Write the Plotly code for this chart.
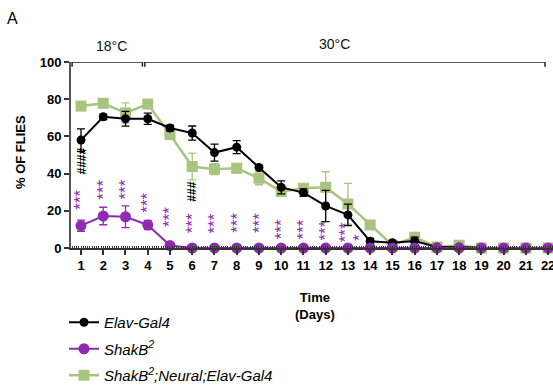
import plotly.graph_objects as go

days = list(range(1, 23))

elav = [58, 70.5, 69.5, 69.5, 64.5, 61.8, 51.3, 54.2, 43.3, 32.6, 29.8, 22.6, 17.8, 3.6, 2.8, 3.8, 0.6, 0.6, 0, 0, 0, 0]
elav_err = [6, 1.5, 4, 3, 1.5, 3.8, 4.6, 3.5, 1, 3.5, 2, 8.4, 5.8, 1.5, 1, 2, 0.5, 0.5, 0.3, 0.3, 0.3, 0.3]

shakb = [12, 17.2, 16.8, 12.4, 1.3, 0, 0, 0, 0, 0, 0, 0, 0, 0, 0, 0, 0, 0, 0, 0, 0, 0]
shakb_err = [3, 4.7, 5.8, 2.5, 0.5, 0, 0, 0, 0, 0, 0, 0, 0, 0, 0, 0, 0, 0, 0, 0, 0, 0]

rescue = [76.3, 77.8, 72.6, 77.4, 61, 43.8, 42.4, 42.9, 37.5, 30.3, 32.1, 32.6, 23.7, 12.4, 1.5, 5.8, 0.5, 1.5, 0, 0, 0, 0]
rescue_err = [1, 2.5, 5.4, 2, 2, 7.2, 3, 2.5, 3.5, 2.5, 2.5, 8.4, 11, 0, 0.5, 2.5, 0.5, 1, 0, 0, 0, 0]

# significance marks (purple stars) and hash marks (black)
star_x = [1, 2, 3, 4, 5, 6, 7, 8, 9, 10, 11, 12, 12.9]
star_y = [26.0, 31.5, 31.7, 24.2, 16.7, 13.4, 13.4, 13.4, 13.4, 10.2, 10.2, 9.2, 8.3]
single_star_x = [13.55]
single_star_y = [5.5]
hash_x = [1, 6]
hash_y = [46.5, 30.4]
hash_text = ["####", "###"]

BLACK = "#000000"
PURPLE = "#8E2BB0"
GREEN = "#A8C47E"

W, H = 553, 385
ML, MR, MT, MB = 71, 0, 62, 137
PW, PH = W - ML - MR, H - MT - MB

def px_x(x):
    return (x - ML) / PW

def px_y(y):
    return (H - MB - y) / PH

fig = go.Figure()

fig.add_trace(go.Scatter(
    x=days, y=rescue, name="<i>ShakB<sup>2</sup>;Neural;Elav-Gal4</i>",
    mode="lines+markers", line=dict(color=GREEN, width=2.5),
    marker=dict(symbol="square", size=11, color=GREEN),
    error_y=dict(type="data", array=rescue_err, color=GREEN, thickness=1.3, width=4),
    cliponaxis=False, legendgroup="c", legendrank=3,
))
fig.add_trace(go.Scatter(
    x=days, y=elav, name="<i>Elav-Gal4</i>",
    mode="lines+markers", line=dict(color=BLACK, width=2),
    marker=dict(symbol="circle", size=9, color=BLACK),
    error_y=dict(type="data", array=elav_err, color=BLACK, thickness=1.3, width=4),
    cliponaxis=False, legendgroup="a", legendrank=1,
))
fig.add_trace(go.Scatter(
    x=days, y=shakb, name="<i>ShakB<sup>2</sup></i>",
    mode="lines+markers", line=dict(color=PURPLE, width=2),
    marker=dict(symbol="circle", size=11, color=PURPLE),
    error_y=dict(type="data", array=shakb_err, color=PURPLE, thickness=1.3, width=4),
    cliponaxis=False, legendgroup="b", legendrank=2,
))

for x, y in zip(star_x, star_y):
    fig.add_annotation(x=x, y=y, xref="x", yref="y", text="***", textangle=-90,
                       showarrow=False, font=dict(color=PURPLE, size=17, family="Liberation Sans"))
for x, y in zip(single_star_x, single_star_y):
    fig.add_annotation(x=x, y=y, xref="x", yref="y", text="*", textangle=-90,
                       showarrow=False, font=dict(color=PURPLE, size=17, family="Liberation Sans"))
for x, y, t in zip(hash_x, hash_y, hash_text):
    fig.add_annotation(x=x, y=y, xref="x", yref="y", text=f"<b>{t}</b>", textangle=-90,
                       showarrow=False, font=dict(color=BLACK, size=12, family="Liberation Sans"))

# temperature bar
bar_y = 100
line_style = dict(color="#222222", width=1.5)
fig.add_shape(type="line", xref="x", yref="y", x0=0.6, x1=3.76, y0=bar_y, y1=bar_y, line=line_style)
fig.add_shape(type="line", xref="x", yref="y", x0=3.87, x1=21.86, y0=bar_y, y1=bar_y, line=line_style)
for xt in [0.6, 3.76, 3.87, 21.86]:
    fig.add_shape(type="line", xref="x", yref="y", x0=xt, x1=xt, y0=bar_y - 2.5, y1=bar_y + 2.5, line=line_style)
fig.add_annotation(x=2.35, y=bar_y, xref="x", yref="y", yshift=16, text="18°C", showarrow=False,
                   font=dict(size=14, color="#111111", family="Liberation Sans"))
fig.add_annotation(x=12.4, y=bar_y, xref="x", yref="y", yshift=18, text="30°C", showarrow=False,
                   font=dict(size=14, color="#111111", family="Liberation Sans"))

fig.add_annotation(x=px_x(12), y=px_y(18), xref="paper", yref="paper", text="A", showarrow=False,
                   xanchor="center", yanchor="middle", font=dict(size=16, color="#000"))
fig.add_annotation(x=px_x(315), y=px_y(306), xref="paper", yref="paper",
                   text="<b>Time<br>(Days)</b>", showarrow=False, xanchor="center", yanchor="middle",
                   font=dict(size=13, color="#000"))
fig.add_annotation(x=px_x(20), y=px_y(152), xref="paper", yref="paper",
                   text="<b>% OF FLIES</b>", textangle=-90, showarrow=False,
                   xanchor="center", yanchor="middle", font=dict(size=13, color="#000"))

fig.update_layout(
    width=W, height=H,
    margin=dict(l=ML, r=MR, t=MT, b=MB, autoexpand=False),
    paper_bgcolor="white", plot_bgcolor="white",
    font=dict(family="Liberation Sans", color="#000"),
    showlegend=True,
    legend=dict(x=px_x(64), y=px_y(306), xanchor="left", yanchor="top", traceorder="grouped",
                tracegroupgap=4, font=dict(size=15, family="Liberation Sans"),
                itemwidth=30, bgcolor="rgba(0,0,0,0)"),
    xaxis=dict(range=[0.55, 22.22], tickmode="array", tickvals=days,
               ticktext=[f"<b>{d}</b>" for d in days],
               showgrid=False, zeroline=False, showline=True, linecolor="#333", linewidth=1.5,
               ticks="outside", ticklen=5, tickwidth=1.5, tickcolor="#333",
               tickfont=dict(size=13), ticklabeloverflow="allow",
               minor=dict(dtick=0.1, ticks="inside", ticklen=2, tickwidth=1, tickcolor="#333")),
    yaxis=dict(range=[0, 100], tickvals=[0, 20, 40, 60, 80, 100],
               ticktext=["<b>0</b>", "<b>20</b>", "<b>40</b>", "<b>60</b>", "<b>80</b>", "<b>100</b>"],
               showgrid=False, zeroline=False, showline=True, linecolor="#555", linewidth=2,
               ticks="outside", ticklen=5, tickwidth=1.5, tickcolor="#333",
               tickfont=dict(size=13)),
)

fig.write_html("out.html")
